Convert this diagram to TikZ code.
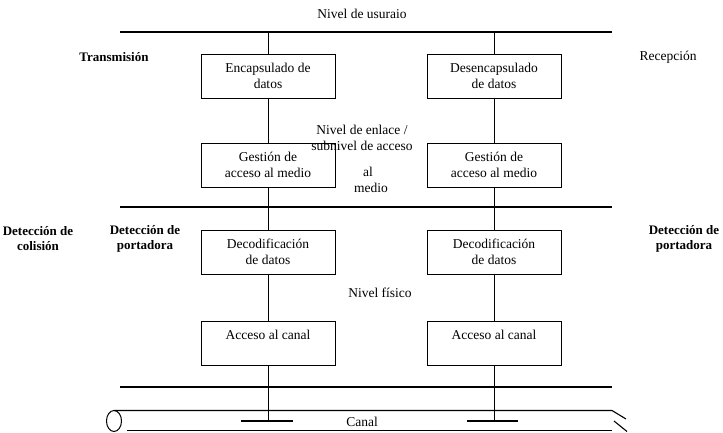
\documentclass[tikz,border=0pt]{standalone}
\usepackage{fontspec}
\setmainfont{Liberation Serif}
\usetikzlibrary{positioning}

\begin{document}
\begin{tikzpicture}[x=1pt,y=-1pt,
    every node/.style={font=\fontsize{13.5}{16}\selectfont},
    capa/.style={draw,line width=1pt,rectangle,align=center,minimum width=134pt,minimum height=44pt,inner sep=2pt},
    nivel/.style={line width=1.1pt},
    enlace/.style={line width=0.9pt},
    etiq/.style={align=center,font=\fontsize{13}{15}\selectfont\bfseries}]

    \useasboundingbox (0,0) rectangle (723,432);

    % level lines
    \coordinate (usrL) at (120,32);  \coordinate (usrR) at (612,32);
    \coordinate (macL) at (120,207); \coordinate (macR) at (612,207);
    \coordinate (fisL) at (120,387); \coordinate (fisR) at (612,387);
    \draw[nivel] (usrL) -- (usrR);
    \draw[nivel] (macL) -- (macR);
    \draw[nivel] (fisL) -- (fisR);

    % transmission side
    \node (encL) at (268,76) [capa] {Encapsulado de\\datos};
    \node (gesL) at (268,165) [capa] {Gestión de\\acceso al medio};
    \node (decL) at (268,252) [capa] {Decodificación\\de datos};
    \node (accL) at (268,343) [capa] {Acceso al canal\\~};
    % reception side
    \node (encR) at (494,76) [capa] {Desencapsulado\\de datos};
    \node (gesR) at (494,165) [capa] {Gestión de\\acceso al medio};
    \node (decR) at (494,252) [capa] {Decodificación\\de datos};
    \node (accR) at (494,343) [capa] {Acceso al canal\\~};

    % taps on the channel
    \coordinate (tapL) at (268,421); \coordinate (tapL1) at (241,421); \coordinate (tapL2) at (293,421);
    \coordinate (tapR) at (494,421); \coordinate (tapR1) at (467,421); \coordinate (tapR2) at (518,421);

    \draw[enlace] (encL.north |- usrL) -- (encL.north);
    \draw[enlace] (encL) -- (gesL);
    \draw[enlace] (gesL) -- (decL);
    \draw[enlace] (decL) -- (accL);
    \draw[enlace] (accL.south) -- (tapL);
    \draw[nivel] (tapL1) -- (tapL2);
    \draw[enlace] (encR.north |- usrR) -- (encR.north);
    \draw[enlace] (encR) -- (gesR);
    \draw[enlace] (gesR) -- (decR);
    \draw[enlace] (decR) -- (accR);
    \draw[enlace] (accR.south) -- (tapR);
    \draw[nivel] (tapR1) -- (tapR2);

    % channel
    \draw[line width=1pt] (114,421) ellipse [x radius=7.5, y radius=10.5];
    \draw[nivel] (114,410.5) -- (612,410.5) -- (626,419);
    \draw[nivel] (614,421) -- (627,431.5);
    \draw[nivel] (127,430.5) -- (612,430.5);

    % labels
    \node (usuario) at (362,14) {Nivel de usuraio};
    \node (trans) at (114,57) [etiq] {Transmisión};
    \node (recep) at (668,57) {Recepción};
    \node (enlaceTxt) at (362,138) [align=center] {Nivel de enlace /\\subnivel de acceso};
    \node (al) at (368,172) {al};
    \node (medio) at (371,188) {medio};
    \node (colision) at (38,239) [etiq] {Detección de\\colisión};
    \node (portL) at (145,239) [etiq] {Detección de\\portadora};
    \node (portR) at (684,239) [etiq] {Detección de\\portadora};
    \node (fisico) at (380,293) {Nivel físico};
    \node (canal) at (362,422) {Canal};

\end{tikzpicture}
\end{document}
